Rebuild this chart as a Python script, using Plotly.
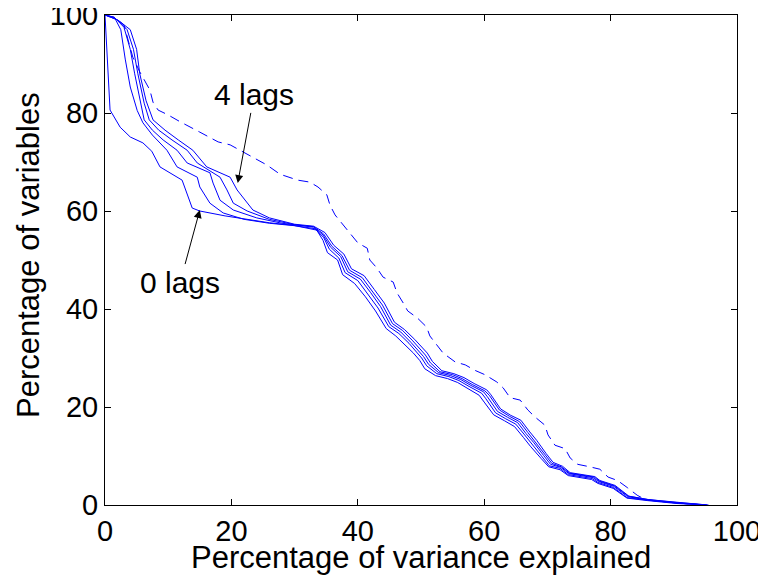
import plotly.graph_objects as go

# ---- data ----
lag0_x = [0, 0.3, 0.8, 2.4, 4.0, 6.0, 7.4, 8.7, 12.2, 13.8, 15.0, 19.0, 22.9, 26.0, 29.7,
          33.5, 34.5, 35.2, 36.8, 37.6, 39.5, 41.2, 42.8, 44.5, 46.0, 47.6, 48.8, 49.8, 50.6,
          52.3, 54.2, 55.8, 57.4, 59.2, 60.0, 61.5, 63.2, 64.8, 66.2, 67.3, 69.0, 70.2, 72.0,
          73.3, 77.0, 78.0, 80.4, 81.5, 82.6, 85.8, 90.5, 95.0]
lag0_y = [100, 92, 80.6, 77.1, 75.1, 73.9, 72.2, 69.0, 66.3, 60.6, 60.0, 59.0, 58.2, 57.6, 57.1,
          56.1, 54.0, 51.5, 50.0, 47.0, 45.2, 42.5, 39.6, 36.0, 34.5, 32.6, 31.0, 29.5, 27.8,
          26.4, 25.8, 25.0, 23.7, 22.4, 21.0, 18.4, 17.2, 16.0, 13.8, 12.0, 9.5, 7.8, 7.2,
          6.0, 5.2, 4.4, 3.4, 2.4, 1.4, 0.9, 0.3, 0]

lag1_x = [0, 1.5, 2.5, 3.2, 4.0, 5.1, 6.0, 7.5, 9.8, 11.4, 14.6, 15.0, 16.6, 18.7, 22.0, 26.0, 30.0,
          33.2, 34.6, 35.5, 37.0, 38.0, 40.0, 41.6, 43.2, 44.9, 46.5, 48.1, 49.2, 50.1, 50.9,
          52.5, 54.4, 56.0, 57.6, 59.6, 60.2, 61.8, 63.4, 65.0, 66.4, 67.5, 69.2, 70.3, 72.0,
          73.3, 77.1, 78.0, 80.4, 81.5, 82.6, 85.8, 90.5, 95.0]
lag1_y = [100, 99.5, 97.0, 91.0, 85.3, 80.5, 78.0, 75.5, 72.4, 69.0, 66.9, 64.9, 61.6, 59.6, 58.3, 57.5, 57.0,
          56.4, 54.6, 52.2, 50.4, 47.4, 45.8, 43.0, 40.2, 36.4, 35.0, 33.0, 31.4, 30.0, 28.4,
          26.8, 26.2, 25.4, 24.2, 22.8, 21.8, 18.8, 17.6, 16.5, 14.3, 12.5, 9.8, 8.0, 7.5,
          6.2, 5.4, 4.6, 3.6, 2.6, 1.5, 1.0, 0.4, 0]

lag2_x = [0, 1.5, 3.0, 4.0, 4.7, 5.5, 6.2, 7.5, 9.2, 11.4, 13.0, 16.6, 17.1, 18.2, 20.3, 24.0, 28.0,
          33.0, 34.5, 35.7, 37.3, 38.4, 40.4, 42.0, 43.6, 45.2, 46.8, 48.4, 49.5, 50.4, 51.2,
          52.8, 54.7, 56.3, 57.9, 59.9, 60.5, 62.1, 63.7, 65.3, 66.6, 67.8, 69.4, 70.5, 72.1,
          73.4, 77.2, 78.1, 80.5, 81.6, 82.7, 85.9, 90.5, 95.2]
lag2_y = [100, 99.5, 97.5, 93.0, 88.0, 83.0, 78.6, 76.5, 74.5, 72.4, 69.8, 67.8, 65.7, 62.2, 60.2, 58.6, 57.5,
          56.7, 55.1, 52.6, 50.7, 47.6, 46.1, 43.4, 40.5, 36.7, 35.3, 33.2, 31.7, 30.3, 28.7,
          27.0, 26.4, 25.6, 24.4, 23.1, 22.1, 19.1, 17.9, 16.8, 14.6, 12.8, 10.1, 8.3, 7.7,
          6.4, 5.6, 4.8, 3.8, 2.8, 1.7, 1.0, 0.4, 0]

lag3_x = [0, 2.0, 3.5, 4.5, 5.2, 6.2, 7.0, 8.5, 10.6, 13.0, 14.6, 18.2, 19.3, 20.3, 22.5, 26.0, 30.0,
          33.0, 34.6, 35.9, 37.5, 38.7, 40.7, 42.3, 43.9, 45.5, 47.1, 48.7, 49.8, 50.7, 51.5,
          53.0, 55.0, 56.5, 58.1, 60.1, 60.8, 62.4, 64.0, 65.6, 66.9, 68.0, 69.6, 70.7, 72.2,
          73.5, 77.4, 78.2, 80.6, 81.6, 82.8, 86.0, 90.5, 95.3]
lag3_y = [100, 99.0, 97.0, 93.0, 88.0, 82.0, 78.6, 76.5, 74.5, 72.4, 69.8, 66.9, 64.3, 61.6, 60.0, 58.3, 57.2,
          56.8, 55.3, 52.8, 50.9, 47.9, 46.4, 43.7, 40.8, 37.0, 35.6, 33.5, 32.0, 30.6, 29.0,
          27.2, 26.6, 25.8, 24.6, 23.3, 22.4, 19.4, 18.1, 17.0, 14.8, 13.0, 10.3, 8.5, 7.8,
          6.5, 5.7, 4.9, 3.9, 2.9, 1.8, 1.1, 0.5, 0]

lag4_x = [0, 2.0, 4.0, 5.0, 5.5, 6.5, 7.6, 9.5, 11.6, 13.9, 16.1, 19.8, 20.9, 21.8, 23.4, 26.0, 30.0,
          33.0, 34.8, 36.2, 37.8, 39.0, 41.0, 42.6, 44.2, 45.8, 47.4, 49.0, 50.0, 51.0, 51.8,
          53.3, 55.2, 56.8, 58.4, 60.4, 61.0, 62.6, 64.2, 65.8, 67.1, 68.3, 69.8, 70.9, 72.4,
          73.6, 77.5, 78.3, 80.7, 81.7, 82.9, 86.0, 90.5, 95.5]
lag4_y = [100, 99.0, 97.0, 93.0, 88.0, 82.5, 78.6, 76.5, 74.5, 72.4, 69.0, 66.9, 64.3, 62.9, 60.2, 58.6, 57.3,
          56.9, 55.6, 53.0, 51.2, 48.2, 46.8, 44.0, 41.2, 37.3, 35.8, 33.8, 32.4, 31.0, 29.3,
          27.4, 26.8, 26.0, 24.8, 23.5, 22.6, 19.6, 18.3, 17.3, 15.1, 13.2, 10.5, 8.7, 7.9,
          6.6, 5.8, 5.0, 4.0, 3.0, 1.8, 1.1, 0.5, 0]

dashed_x = [0, 1.5, 3.0, 4.4, 5.5, 7.1, 7.6, 8.4, 10.0, 11.9, 15.0, 17.9, 19.8, 22.9, 25.6, 27.7,
            30.5, 32.4, 33.7, 35.1, 35.6, 36.4, 37.7, 38.8, 40.0, 41.5, 41.9, 43.0, 44.0, 45.6,
            46.2, 47.2, 47.9, 49.4, 50.9, 51.4, 52.7, 53.5, 55.4, 57.0, 58.5, 60.1, 62.0, 63.0,
            64.1, 65.7, 66.9, 68.0, 69.6, 70.1, 71.2, 72.8, 73.6, 74.8, 76.7, 78.3, 79.6, 81.1,
            82.7, 84.2, 85.5, 90.5, 95.0]
dashed_y = [100, 99.5, 98.0, 91.4, 88.4, 84.7, 82.2, 80.6, 79.6, 78.2, 76.1, 74.1, 73.5, 71.4, 69.4, 67.5,
            66.3, 65.9, 64.9, 63.3, 61.2, 59.2, 57.1, 55.5, 53.5, 52.4, 50.0, 48.4, 46.5, 45.5,
            43.3, 41.2, 39.6, 38.2, 36.3, 34.5, 32.2, 31.0, 29.2, 28.6, 27.5, 26.6, 25.1, 23.9,
            21.9, 21.4, 19.4, 18.0, 16.3, 14.3, 12.2, 11.5, 9.6, 8.3, 7.8, 7.3, 5.7, 5.0,
            3.5, 2.0, 1.1, 0.4, 0]

tick_vals = [0, 20, 40, 60, 80, 100]
tick_text = ["0", "20", "40", "60", "80", "100"]

BLUE = "rgb(0,0,255)"
FONT = "Liberation Sans, Arial, sans-serif"

fig = go.Figure()
for xs, ys in [(lag0_x, lag0_y), (lag1_x, lag1_y), (lag2_x, lag2_y),
               (lag3_x, lag3_y), (lag4_x, lag4_y)]:
    fig.add_trace(go.Scatter(x=xs, y=ys, mode="lines",
                             line=dict(color=BLUE, width=1), showlegend=False,
                             hoverinfo="skip"))
fig.add_trace(go.Scatter(x=dashed_x, y=dashed_y, mode="lines",
                         line=dict(color=BLUE, width=1, dash="10px,6px"),
                         showlegend=False, hoverinfo="skip"))

axis_common = dict(
    range=[0, 100], tickvals=tick_vals, ticktext=tick_text,
    ticks="inside", ticklen=6, tickcolor="black", tickwidth=1,
    showline=True, linecolor="black", linewidth=1, mirror="ticks",
    showgrid=False, zeroline=False, automargin=False,
    ticklabeloverflow="allow",
    tickfont=dict(family=FONT, size=29, color="black"),
)

# the page body adds an 8px offset, so the figure is 8px smaller on each lead side
fig.update_layout(
    width=758, height=571,
    margin=dict(l=97, r=29, t=7, b=74),
    paper_bgcolor="white", plot_bgcolor="white",
    xaxis=dict(**axis_common),
    yaxis=dict(**axis_common),
    annotations=[
        dict(x=0.5, y=-0.108, xref="paper", yref="paper", xanchor="center",
             yanchor="middle", showarrow=False,
             text="Percentage of variance explained",
             font=dict(family=FONT, size=31, color="black")),
        dict(x=-0.122, y=0.51, xref="paper", yref="paper", xanchor="center",
             yanchor="middle", showarrow=False, textangle=-90,
             text="Percentage of variables",
             font=dict(family=FONT, size=31, color="black")),
        dict(x=21.0, y=65.7, ax=23.6, ay=83.7, xref="x", yref="y",
             axref="x", ayref="y", text="4 lags", showarrow=True,
             arrowhead=2, arrowsize=1.6, arrowwidth=1, arrowcolor="black",
             font=dict(family=FONT, size=30, color="black")),
        dict(x=15.0, y=60.2, ax=11.9, ay=45.5, xref="x", yref="y",
             axref="x", ayref="y", text="0 lags", showarrow=True,
             arrowhead=2, arrowsize=1.6, arrowwidth=1, arrowcolor="black",
             font=dict(family=FONT, size=30, color="black")),
    ],
)

fig.write_html("out.html")
